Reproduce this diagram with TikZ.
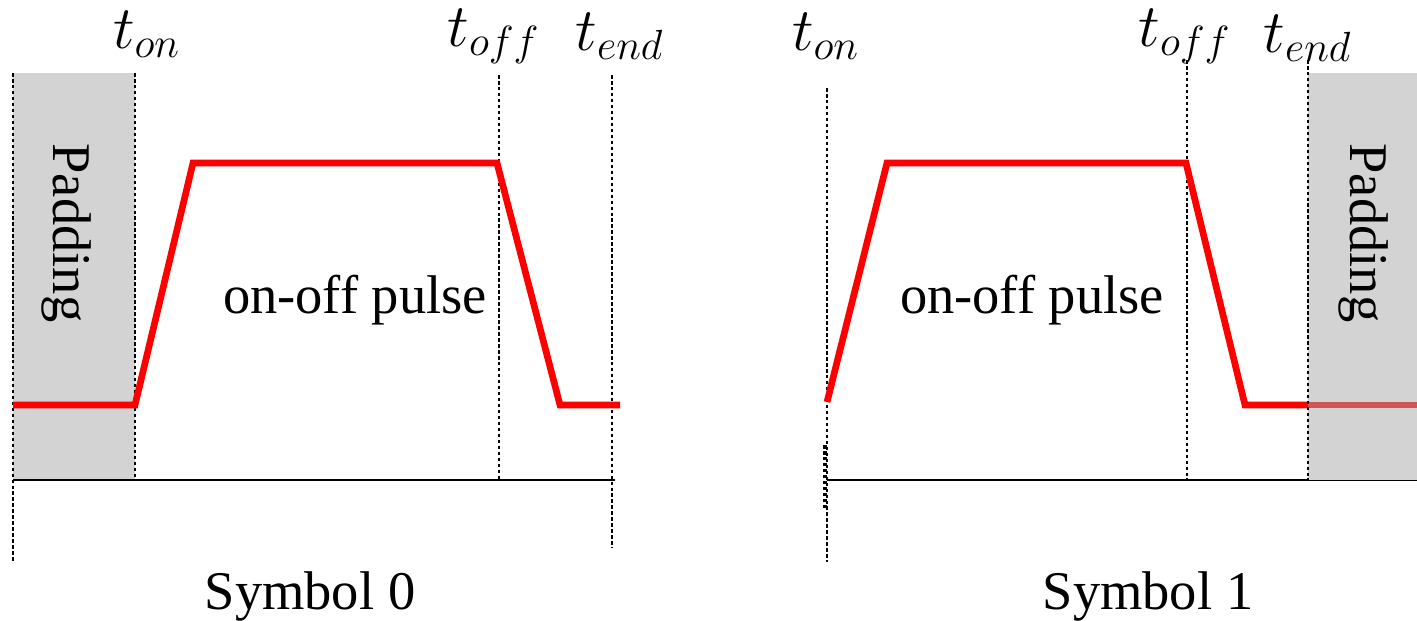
\documentclass[tikz,border=0pt]{standalone}
\usepackage{fontspec}
\setmainfont{LiberationSerif-Regular.ttf}
\usetikzlibrary{positioning}
\definecolor{pulseRed}{HTML}{FF0000}
\definecolor{padGray}{HTML}{D3D3D3}
\definecolor{padRed}{HTML}{D05454}

\begin{document}
\begin{tikzpicture}[x=0.01cm,y=-0.01cm, every node/.style={font=\fontsize{15.5}{18}\selectfont},
    guide/.style={line width=0.5pt, dash pattern=on 1pt off 0.7pt},
    pulse/.style={pulseRed, line width=1.9pt},
    tlabel/.style={anchor=base, font=\fontsize{18}{20}\selectfont}]
  \useasboundingbox (0,0) rectangle (1417,620);
  % Symbol 0
  \coordinate (start0) at (13,480);
  \coordinate (on0) at (135,480);
  \coordinate (off0) at (499,480);
  \coordinate (end0) at (612,480);
  \fill[padGray] (13,73) rectangle (on0);
  \draw[guide] (13,73) -- (13,562);
  \draw[guide] (135,73) -- (on0);
  \draw[guide] (499,75) -- (off0);
  \draw[guide] (612,75) -- (612,548);
  \draw[line width=0.6pt] (start0) -- (615,480);
  \draw[pulse] (13,405) -- (135,405) -- (193,163) -- (497,163) -- (560,405) -- (620,405);
  \node[tlabel] (ton0) at (147,48) {$t_{on}$};
  \node[tlabel] (toff0) at (494,46) {$t_{off}$};
  \node[tlabel] (tend0) at (620,50) {$t_{end}$};
  \node[rotate=-90] (pad0) at (67,233) {Padding};
  \node (pulse0) at (355,300) {on-off pulse};
  \node (sym0) at (310,596) {Symbol 0};
  % Symbol 1
  \coordinate (on1) at (827,480);
  \coordinate (off1) at (1187,480);
  \coordinate (end1) at (1308,480);
  \draw[guide] (827,88) -- (827,562);
  \draw[guide, line width=1.1pt] (825,445) -- (825,510);
  \draw[guide] (1187,60) -- (off1);
  \draw[line width=0.6pt] (on1) -- (1417,480);
  \draw[pulse] (827,402) -- (887,163) -- (1186,163) -- (1245,405) -- (1308,405);
  \fill[padGray] (1308,73) rectangle (1417,480);
  \draw[padRed, line width=1.9pt] (1308,405) -- (1417,405);
  \draw[guide] (1308,60) -- (end1);
  \node[tlabel] (ton1) at (826,50) {$t_{on}$};
  \node[tlabel] (toff1) at (1185,46) {$t_{off}$};
  \node[tlabel] (tend1) at (1308,52) {$t_{end}$};
  \node[rotate=-90] (pad1) at (1364,233) {Padding};
  \node (pulse1) at (1032,300) {on-off pulse};
  \node (sym1) at (1148,596) {Symbol 1};
\end{tikzpicture}
\end{document}
